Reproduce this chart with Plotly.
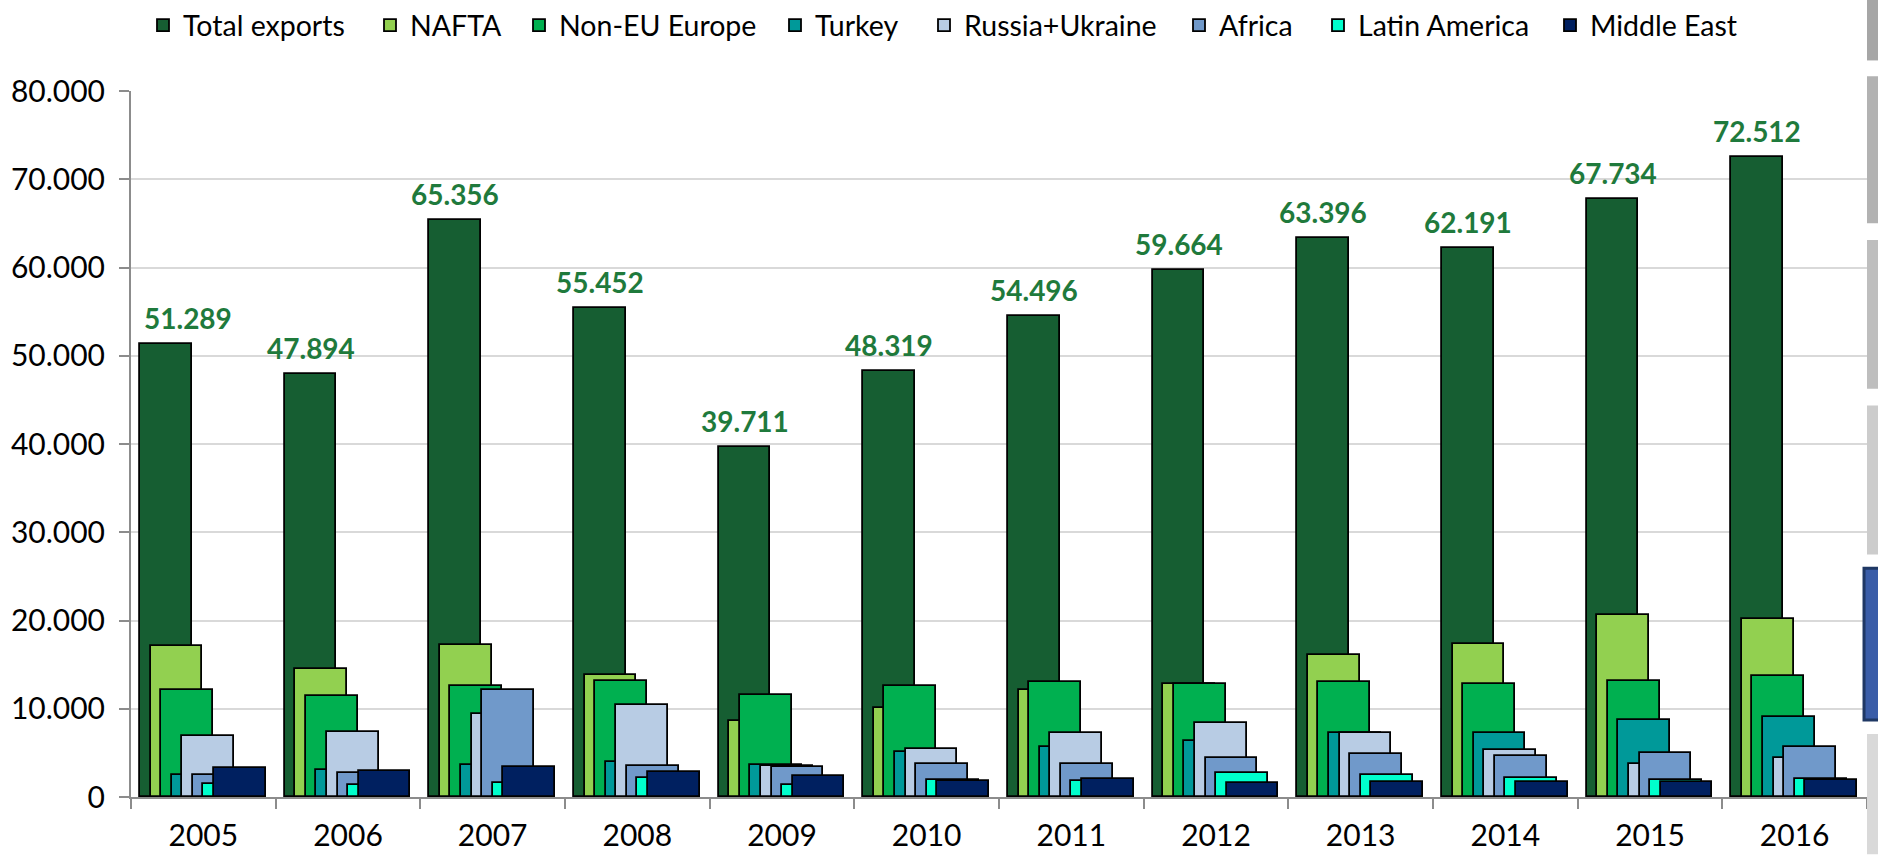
import plotly.graph_objects as go

# ---- data -------------------------------------------------------------
years = ["2005", "2006", "2007", "2008", "2009", "2010",
         "2011", "2012", "2013", "2014", "2015", "2016"]

total_exports = [51289, 47894, 65356, 55452, 39711, 48319,
                 54496, 59664, 63396, 62191, 67734, 72512]
nafta = [17130, 14560, 17280, 13820, 8600, 10090,
         12070, 12850, 16130, 17390, 20600, 20190]
non_eu_europe = [12070, 11400, 12550, 13180, 11510, 12550,
                 13070, 12770, 13000, 12770, 13180, 13740]
turkey = [2530, 3020, 3610, 3980, 3650, 5140,
          5660, 6290, 7230, 7300, 8750, 9050]
russia_ukraine = [6960, 7370, 9420, 10470, 3550, 5400,
                  7230, 8380, 7300, 5360, 3690, 4390]
africa = [2460, 2680, 12070, 3500, 3350, 3690,
          3690, 4390, 4920, 4620, 4950, 5620]
latin_america = [1530, 1410, 1640, 2200, 1340, 1970,
                 1820, 2720, 2530, 2160, 1900, 2050]
middle_east = [3240, 2940, 3430, 2830, 2350, 1790,
               2010, 1600, 1680, 1680, 1680, 1940]

series = [
    ("Total exports", total_exports, "#165E32"),
    ("NAFTA", nafta, "#92D050"),
    ("Non-EU Europe", non_eu_europe, "#00B050"),
    ("Turkey", turkey, "#009999"),
    ("Russia+Ukraine", russia_ukraine, "#B8CCE4"),
    ("Africa", africa, "#7099CA"),
    ("Latin America", latin_america, "#00FFCC"),
    ("Middle East", middle_east, "#002060"),
]

# ---- layout constants ---------------------------------------------------
FONT = "Lato, 'Open Sans', sans-serif"
W, H = 1878, 863
BAR_W = 0.358          # width of each bar in category units
FIRST_OFF = -0.438     # left edge of the first bar relative to category centre
STEP = 0.0731          # horizontal shift between successive series

# left pixel of each legend entry's swatch along the top row
LEGEND_LEFT_PX = [162, 389, 538, 794, 943, 1198, 1337, 1569]

fig = go.Figure()

legend_layouts = {}
for k, (name, vals, color) in enumerate(series):
    legend_id = "legend" if k == 0 else f"legend{k + 1}"
    fig.add_trace(go.Bar(
        x=years,
        y=vals,
        name=name,
        width=BAR_W,
        offset=FIRST_OFF + k * STEP,
        marker=dict(color=color, line=dict(color="#000000", width=1.8)),
        legend=legend_id,
    ))
    legend_layouts[legend_id] = dict(
        orientation="h",
        xref="container", yref="container",
        x=(LEGEND_LEFT_PX[k] - 19) / W, xanchor="left",
        y=1.0, yanchor="top",
        font=dict(family=FONT, size=28.5, color="#000000"),
        bgcolor="rgba(0,0,0,0)",
        borderwidth=0,
    )

# value labels on top of the total-exports bars
label_center = FIRST_OFF + BAR_W / 2
for i, v in enumerate(total_exports):
    fig.add_annotation(
        x=i + label_center, y=v,
        text="<b>" + f"{v:,}".replace(",", ".") + "</b>",
        showarrow=False,
        yanchor="middle", yshift=26,
        xshift=22 if i == 0 else 0,
        font=dict(family=FONT, size=28, color="#1F7A3C"),
    )

# thin panels along the right edge of the canvas
PLOT_L, PLOT_R, PLOT_T, PLOT_B = 123, 1867, 91, 807
px_x = 1.0 / (PLOT_R - PLOT_L)
px_y = 1.0 / (PLOT_B - PLOT_T)


def edge_box(top, bottom, color, left=1867, line=None):
    fig.add_shape(
        type="rect", xref="paper", yref="paper",
        x0=(left - PLOT_L) * px_x, x1=(W + 2 - PLOT_L) * px_x,
        y0=(PLOT_B - bottom) * px_y, y1=(PLOT_B - top) * px_y,
        fillcolor=color, line=line or dict(width=0), layer="above",
    )


edge_box(-2, 60, "#A6A6A6")
edge_box(76, 225, "#B2B2B2")
edge_box(242, 393, "#BEBEBE")
edge_box(410, 561, "#CCCCCC")
edge_box(575, 729, "#3A5DA8", left=1864, line=dict(color="#1F3864", width=3))
edge_box(743, H + 2, "#D9D9D9")

fig.update_layout(
    width=W, height=H,
    margin=dict(l=PLOT_L, r=W - PLOT_R, t=PLOT_T, b=H - PLOT_B),
    barmode="overlay",
    bargap=0,
    plot_bgcolor="#FFFFFF",
    paper_bgcolor="#FFFFFF",
    separators=",.",
    font=dict(family=FONT, size=28, color="#000000"),
    showlegend=True,
    **legend_layouts,
)

fig.update_xaxes(
    type="category",
    range=[-0.5, 11.5],
    tickson="boundaries",
    ticks="outside", ticklen=10, tickwidth=2, tickcolor="#8C8C8C",
    showline=True, linecolor="#8C8C8C", linewidth=2,
    showgrid=False,
    ticklabelstandoff=11,
    tickfont=dict(family=FONT, size=30, color="#000000"),
)

fig.update_yaxes(
    range=[0, 80000],
    dtick=10000,
    tickformat=",.0f",
    ticks="outside", ticklen=10, tickwidth=2, tickcolor="#8C8C8C",
    showline=True, linecolor="#8C8C8C", linewidth=2,
    showgrid=True, gridcolor="#D9D9D9", gridwidth=2,
    zeroline=False,
    ticklabelstandoff=8,
    tickfont=dict(family=FONT, size=30, color="#000000"),
)

fig.write_html("out.html")
